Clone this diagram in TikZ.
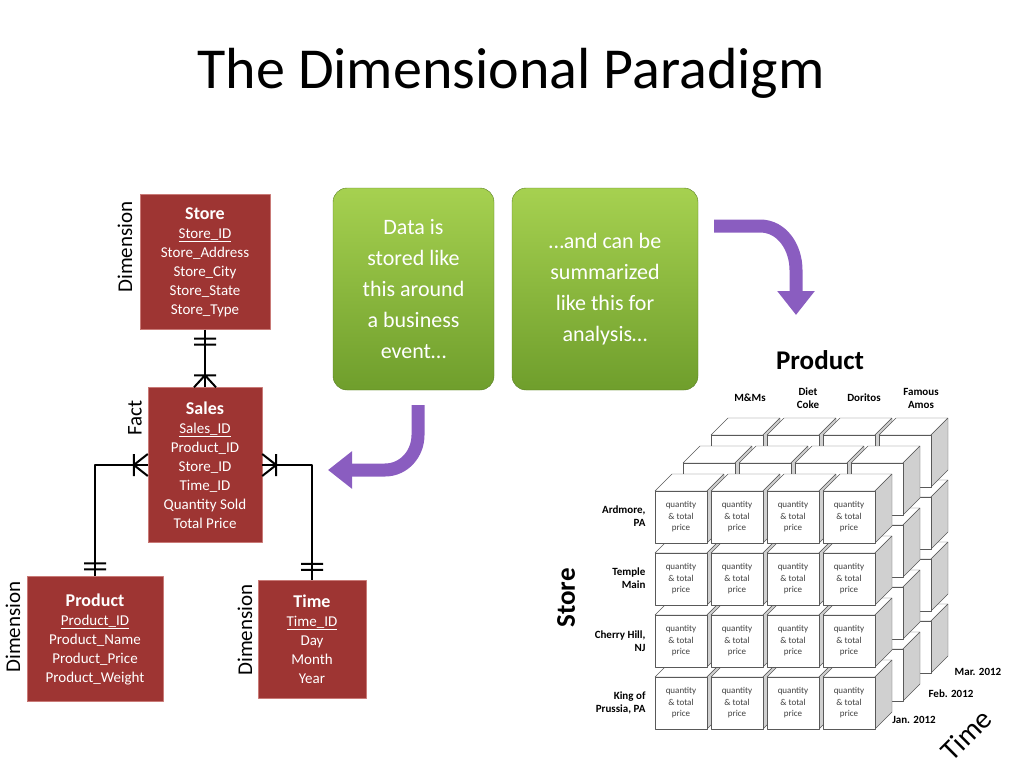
\documentclass[tikz,border=0pt]{standalone}
\usepackage{fontspec}
\setmainfont{Carlito}
\usetikzlibrary{arrows.meta,calc}
\definecolor{erred}{HTML}{9E3533}
\definecolor{erline}{HTML}{C97A77}
\definecolor{gtop}{HTML}{A6D150}
\definecolor{gbot}{HTML}{6F9E2C}
\definecolor{purp}{HTML}{8A5DC0}
\definecolor{cubegray}{HTML}{D0D0D0}
\tikzset{
  entity/.style={draw=erline,fill=erred,text=white,align=center,font=\fontsize{15}{19}\selectfont,inner sep=4pt},
  tag/.style={rotate=90,font=\fontsize{21}{22}\selectfont},
  note/.style={rounded corners=14pt,draw=gbot!80!black,top color=gtop,bottom color=gbot,text=white,align=center,font=\fontsize{22}{31}\selectfont},
  bend arrow/.style={line width=13pt,purp,-{Triangle[width=36pt,length=24pt]}},
  hdr/.style={font=\bfseries\fontsize{11}{13}\selectfont,align=center},
  rowlab/.style={font=\bfseries\fontsize{11}{13}\selectfont,align=right,anchor=east},
}
\newcommand{\cellbox}[3]{% x, y, text
  \filldraw[draw=gray!70!black,fill=white] (#1,#2)--++(17,-17)--++(52,0)--++(-17,17)--cycle;
  \filldraw[draw=gray!70!black,fill=cubegray] (#1+52,#2)--++(17,-17)--++(0,52)--++(-17,17)--cycle;
  \filldraw[draw=gray!70!black,fill=white] (#1,#2) rectangle ++(52,52);
  \node[font=\fontsize{9}{11.5}\selectfont,text=black!75,align=center] at (#1+26,#2+26) {#3};}
\begin{document}
\begin{tikzpicture}[x=1pt,y=-1pt,line join=round]
\useasboundingbox (0,0) rectangle (1024,768);
\node[font=\fontsize{58}{64}\selectfont] (title) at (511,73) {The Dimensional Paradigm};
% entities
\node[entity,minimum width=130pt,minimum height=135pt] (store) at (205,262)
  {\textbf{\fontsize{18}{19}\selectfont Store}\\\underline{Store\_ID}\\Store\_Address\\Store\_City\\Store\_State\\Store\_Type};
\node[entity,minimum width=114pt,minimum height=155pt] (sales) at (205,465)
  {\textbf{\fontsize{18}{19}\selectfont Sales}\\\underline{Sales\_ID}\\Product\_ID\\Store\_ID\\Time\_ID\\Quantity Sold\\Total Price};
\node[entity,minimum width=136pt,minimum height=125pt] (product) at (95,639)
  {\textbf{\fontsize{18}{19}\selectfont Product}\\\underline{Product\_ID}\\Product\_Name\\Product\_Price\\Product\_Weight};
\node[entity,minimum width=108pt,minimum height=118pt] (time) at (312,639)
  {\textbf{\fontsize{18}{19}\selectfont Time}\\\underline{Time\_ID}\\Day\\Month\\Year};
\node[tag] at (125,247) {Dimension};
\node[tag] at (135,418) {Fact};
\node[tag] at (13,627) {Dimension};
\node[tag] at (245,630) {Dimension};
% relationships
\coordinate (lc) at (95,465);
\coordinate (rc) at (312,465);
\draw[line width=2pt] (store.south) -- (sales.north);
\draw[line width=2pt] ($(store.south)+(-11,9)$) -- ++(22,0) ($(store.south)+(-11,15)$) -- ++(22,0)
  ($(sales.north)+(-11,-12)$) -- ++(22,0) ($(sales.north)+(-11,0)$) -- ($(sales.north)+(0,-12)$) -- ($(sales.north)+(11,0)$);
\draw[line width=2pt] (sales.west) -- (lc) -- (product.north);
\draw[line width=2pt] ($(product.north)+(-11,-7)$) -- ++(22,0) ($(product.north)+(-11,-13)$) -- ++(22,0)
  ($(sales.west)+(-14,-11)$) -- ++(0,22) ($(sales.west)+(0,-11)$) -- ($(sales.west)+(-14,0)$) -- ($(sales.west)+(0,11)$);
\draw[line width=2pt] (sales.east) -- (rc) -- (time.north);
\draw[line width=2pt] ($(time.north)+(-11,-10)$) -- ++(22,0) ($(time.north)+(-11,-16)$) -- ++(22,0)
  ($(sales.east)+(14,-11)$) -- ++(0,22) ($(sales.east)+(0,-11)$) -- ($(sales.east)+(14,0)$) -- ($(sales.east)+(0,11)$);
% notes and arrows
\node[note,minimum width=161pt,minimum height=202pt] (stored) at (413.5,289) {Data is\\stored like\\this around\\a business\\event…};
\node[note,minimum width=186pt,minimum height=202pt] (summ) at (605,289) {…and can be\\summarized\\like this for\\analysis…};
\coordinate (a1) at (714,226);
\coordinate (a2) at (796,315);
\draw[bend arrow] (a1) -- (760,226) to[out=0,in=90] (796,270) -- (a2);
\coordinate (b1) at (418,405);
\coordinate (b2) at (328,470);
\draw[bend arrow] (b1) -- (418,435) to[out=-90,in=0] (385,470) -- (b2);
% cube
\node[font=\bfseries\fontsize{27}{28}\selectfont] (prod) at (820,360) {Product};
\foreach \t/\x in {M\&Ms/750,Diet\\Coke/808,Doritos/864,Famous\\Amos/921}
  \node[hdr] at (\x,398) {\t};
\foreach \t/\y in {{Ardmore,\\PA}/516,{Temple\\Main}/578,{Cherry Hill,\\NJ}/641,{King of\\Prussia, PA}/703}
  \node[rowlab] at (649,\y) {\t};
\node[font=\bfseries\fontsize{27}{28}\selectfont,rotate=90] (storelab) at (566,598) {Store};
\foreach \k in {2,1,0}
  \foreach \j in {3,2,1,0}
    \foreach \i in {0,1,2,3}{
      \ifnum\k=0
        \cellbox{655+56*\i}{491+62*\j}{quantity\\\& total\\price}
      \else
        \cellbox{655+56*\i+28*\k}{491+62*\j-28*\k}{}
      \fi}
\node[hdr] at (978,672) {Mar. 2012};
\node[hdr] at (951,694) {Feb. 2012};
\node[hdr] at (914,720) {Jan. 2012};
\node[font=\fontsize{29}{30}\selectfont,rotate=45,inner sep=0pt] (timelab) at (966,735) {Time};
\end{tikzpicture}
\end{document}
